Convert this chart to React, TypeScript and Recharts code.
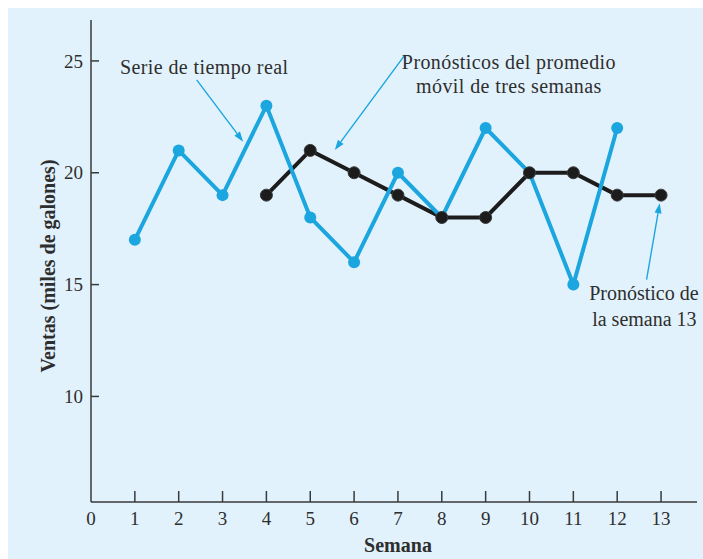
import React from 'react';
import {
  LineChart,
  Line,
  XAxis,
  YAxis,
  Label,
  ReferenceLine,
  ReferenceDot,
} from 'recharts';

// Weekly gasoline sales (thousands of gallons) and the 3-week moving average forecast
const weeks = [1, 2, 3, 4, 5, 6, 7, 8, 9, 10, 11, 12, 13];
const actualSales: (number | null)[] = [17, 21, 19, 23, 18, 16, 20, 18, 22, 20, 15, 22, null];
const movingAvgForecast: (number | null)[] = [null, null, null, 19, 21, 20, 19, 18, 18, 20, 20, 19, 19];

const xTicks = [0, 1, 2, 3, 4, 5, 6, 7, 8, 9, 10, 11, 12, 13];
const yTicks = [10, 15, 20, 25];

const data = weeks.map((week, i) => ({
  week,
  actual: actualSales[i],
  forecast: movingAvgForecast[i],
}));

const BLUE = '#1ba6df';
const BLACK = '#1c1c1c';
const INK = '#2e2e2e';
const AXIS = '#3a3a3a';
const FONT = '"Liberation Serif", "Times New Roman", serif';

const XTick = (props: any) => {
  const { x, y, payload } = props;
  return (
    <g>
      {payload.value !== 0 && (
        <line x1={x} x2={x} y1={y} y2={y - 11} stroke={AXIS} strokeWidth={1.5} />
      )}
      <text x={x} y={y + 23} textAnchor="middle" fill={INK} fontFamily={FONT} fontSize={19}>
        {payload.value}
      </text>
    </g>
  );
};

const YTick = (props: any) => {
  const { x, y, payload } = props;
  return (
    <g>
      <line x1={x} x2={x + 8} y1={y} y2={y} stroke={AXIS} strokeWidth={1.5} />
      <text x={x - 8} y={y} dy="0.35em" textAnchor="end" fill={INK} fontFamily={FONT} fontSize={19}>
        {payload.value}
      </text>
    </g>
  );
};

// Thin pointer line with a filled head at its second end point
const Pointer = (props: any) => {
  const { x1, y1, x2, y2 } = props;
  const ang = Math.atan2(y2 - y1, x2 - x1);
  const len = 10;
  const half = 3.5;
  const bx = x2 - len * Math.cos(ang);
  const by = y2 - len * Math.sin(ang);
  const px = -Math.sin(ang) * half;
  const py = Math.cos(ang) * half;
  return (
    <g>
      <line x1={x1} y1={y1} x2={bx} y2={by} stroke={BLUE} strokeWidth={1.4} />
      <polygon
        points={`${x2},${y2} ${bx + px},${by + py} ${bx - px},${by - py}`}
        fill={BLUE}
      />
    </g>
  );
};

const noteText = (text: string, anchor: 'start' | 'middle', spacing = 0.4) => (props: any) => (
  <text
    x={props.cx}
    y={props.cy}
    textAnchor={anchor}
    fill={INK}
    fontFamily={FONT}
    fontSize={20}
    letterSpacing={spacing}
  >
    {text}
  </text>
);

export default function App() {
  return (
    <>
      <style>{'body{margin:8px 0 0 8px;overflow:hidden;}'}</style>
      <div style={{ width: 695, height: 551, background: '#e2f2fc' }}>
        <LineChart
          width={695}
          height={551}
          data={data}
          margin={{ top: 12, right: 6, bottom: 0, left: 0 }}
        >
          <XAxis
            type="number"
            dataKey="week"
            domain={[0, 13.82]}
            ticks={xTicks}
            interval={0}
            tickSize={0}
            tickMargin={0}
            tickLine={false}
            height={57}
            axisLine={{ stroke: AXIS, strokeWidth: 1.5 }}
            tick={<XTick />}
          >
            <Label
              content={(p: any) => {
                const vb = p.viewBox;
                return (
                  <text
                    x={vb.x + vb.width / 2 + 4}
                    y={vb.y + 50}
                    textAnchor="middle"
                    fill={INK}
                    fontFamily={FONT}
                    fontSize={20}
                    fontWeight="bold"
                  >
                    Semana
                  </text>
                );
              }}
            />
          </XAxis>
          <YAxis
            type="number"
            domain={[5.28, 26.83]}
            ticks={yTicks}
            interval={0}
            width={83}
            tickSize={0}
            tickMargin={0}
            tickLine={false}
            axisLine={{ stroke: AXIS, strokeWidth: 1.5 }}
            tick={<YTick />}
          >
            <Label
              content={(p: any) => {
                const vb = p.viewBox;
                const cx = vb.x + vb.width / 2 - 2;
                const cy = vb.y + vb.height / 2 + 5;
                return (
                  <text
                    x={cx}
                    y={cy}
                    transform={`rotate(-90 ${cx} ${cy})`}
                    textAnchor="middle"
                    dominantBaseline="central"
                    fill={INK}
                    fontFamily={FONT}
                    fontSize={20}
                    fontWeight="bold"
                  >
                    Ventas (miles de galones)
                  </text>
                );
              }}
            />
          </YAxis>

          {/* forecast line underneath, real series over it, forecast dots on top */}
          <Line
            dataKey="forecast"
            stroke={BLACK}
            strokeWidth={4}
            dot={false}
            activeDot={false}
            isAnimationActive={false}
          />
          <Line
            dataKey="actual"
            stroke={BLUE}
            strokeWidth={4}
            dot={{ r: 6, fill: BLUE, stroke: 'none' }}
            activeDot={false}
            isAnimationActive={false}
          />
          <Line
            dataKey="forecast"
            stroke="none"
            dot={{ r: 6, fill: BLACK, stroke: '#3a3a3a', strokeWidth: 1 }}
            activeDot={false}
            isAnimationActive={false}
          />

          <ReferenceLine segment={[{ x: 2.41, y: 24.15 }, { x: 3.47, y: 21.39 }]} shape={<Pointer />} />
          <ReferenceLine segment={[{ x: 7.16, y: 25.27 }, { x: 5.56, y: 21.02 }]} shape={<Pointer />} />
          <ReferenceLine segment={[{ x: 12.67, y: 15.22 }, { x: 12.97, y: 18.64 }]} shape={<Pointer />} />

          <ReferenceDot x={0.66} y={24.42} shape={noteText('Serie de tiempo real', 'start')} />
          <ReferenceDot x={9.53} y={24.66} shape={noteText('Pronósticos del promedio', 'middle')} />
          <ReferenceDot x={9.53} y={23.56} shape={noteText('móvil de tres semanas', 'middle')} />
          <ReferenceDot x={11.36} y={14.32} shape={noteText('Pronóstico de', 'start', 0)} />
          <ReferenceDot x={11.43} y={13.16} shape={noteText('la semana 13', 'start', 0)} />
        </LineChart>
      </div>
    </>
  );
}
